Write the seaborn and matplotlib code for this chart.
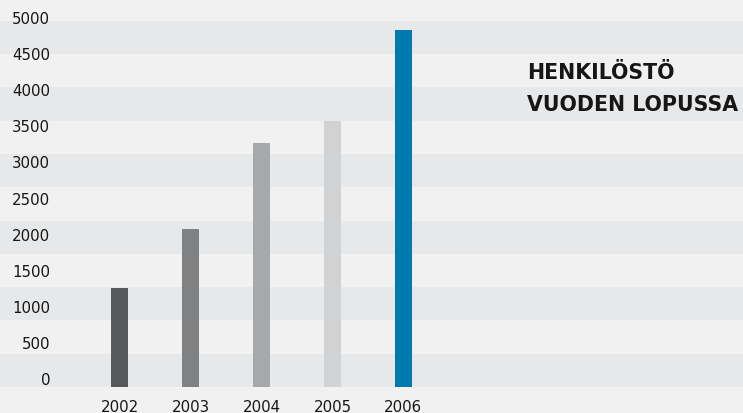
import matplotlib
matplotlib.use("Agg")
import matplotlib.pyplot as plt
import matplotlib.transforms as mtransforms
import seaborn as sns
import pandas as pd

# Personnel at year end
years = ["2002", "2003", "2004", "2005", "2006"]
staff = [1370, 2190, 3380, 3680, 4940]
bar_colors = ["#58595b", "#808183", "#a7a8aa", "#d1d2d4", "#0079ae"]
y_ticks = [0, 500, 1000, 1500, 2000, 2500, 3000, 3500, 4000, 4500, 5000]
title_lines = ["HENKILÖSTÖ", "VUODEN LOPUSSA"]

df = pd.DataFrame({"year": years, "staff": staff})

sns.set_theme(style="white")
plt.rcParams["font.family"] = ["DejaVu Sans"]
text_color = "#161616"

fig = plt.figure(figsize=(7.43, 4.14), dpi=100)
fig.patch.set_facecolor("#f1f1f1")
ax = fig.add_axes([0, 0, 1, 1])
ax.set_facecolor("#f1f1f1")

# striped background bands
band = 461
for i in range(11):
    if i % 2 == 0:
        ax.axhspan(i * band, (i + 1) * band, color="#e7e8e9", lw=0, zorder=0)

sns.barplot(data=df, x="year", y="staff", hue="year", palette=bar_colors,
            width=0.24, legend=False, saturation=1, linewidth=0,
            edgecolor="none", ax=ax, zorder=2)

ax.set_xlim(-1.69, 8.79)
ax.set_ylim(-360, 5374)
ax.set_xlabel("")
ax.set_ylabel("")

for s in ax.spines.values():
    s.set_visible(False)
ax.spines["bottom"].set_position(("data", 0))

ax.set_yticks(y_ticks)
ax.set_yticklabels([str(v) for v in y_ticks])
ax.tick_params(axis="y", length=0, pad=-36, labelsize=10.8, labelcolor=text_color)
ax.tick_params(axis="x", length=0, pad=8.5, labelsize=10.8, labelcolor=text_color)

shift = mtransforms.ScaledTranslation(0, 9 / 100, fig.dpi_scale_trans)
for lab in ax.get_yticklabels():
    lab.set_transform(lab.get_transform() + shift)

for i, line in enumerate(title_lines):
    fig.text(527 / 743, 1 - (73 + 32 * i) / 414, line, ha="left", va="center",
             fontsize=14.8, fontweight="bold", color=text_color)

fig.savefig("out.png", dpi=100, facecolor=fig.get_facecolor())
